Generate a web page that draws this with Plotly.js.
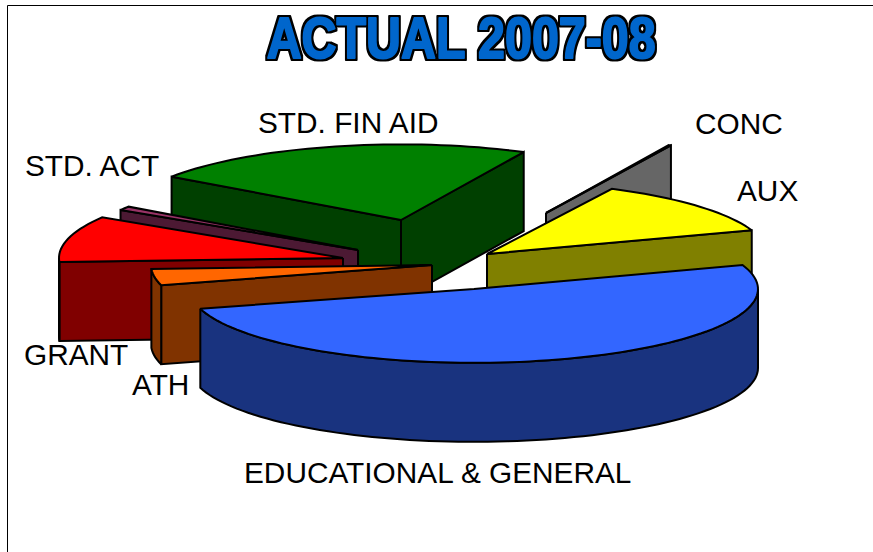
<!DOCTYPE html>
<html><head><meta charset="utf-8">
<script src="https://cdn.plot.ly/plotly-3.0.1.min.js"></script>
<style>html,body{margin:0;padding:0;background:#fff}#c{width:873px;height:552px}</style></head>
<body>
<svg width="0" height="0" style="position:absolute"><defs>
<filter id="wordart" x="-5%" y="-20%" width="110%" height="140%" color-interpolation-filters="sRGB">
<feMorphology in="SourceAlpha" operator="dilate" radius="2" result="fat"/>
<feFlood flood-color="#000"/><feComposite in2="fat" operator="in" result="edge"/>
<feMerge><feMergeNode in="edge"/><feMergeNode in="SourceGraphic"/></feMerge>
</filter></defs></svg>
<div id="c"></div>
<script>
// Data: share of the budget, in percent, going clockwise from EDUCATIONAL & GENERAL
const categories = ["EDUCATIONAL & GENERAL","ATH","GRANT","STD. ACT","STD. FIN AID","CONC","AUX"];
const values     = [50.97, 3.47, 9.72, 0.83, 22.5, 0.14, 12.36];

// Styling and layout of the exploded slices
const topColors  = ["#3366FF","#FF6600","#FF0000","#993366","#008000","#969696","#FFFF00"];
const sideColors = ["#19337F","#803300","#800000","#4C1933","#004000","#666666","#808000"];
const offsetX    = [24,-18,-107,-92,-49,96,37];
const offsetY    = [21,-3,-10,-18,-48,-55,-14];
const radius     = [284,281,284,280,280,280,280];
const flatten    = [0.26,0.27,0.27,0.27,0.27,0.27,0.26];
const drawOrder  = [5,4,3,2,6,1,0];
const labelX = [437,160,76,92,348,739,767];
const labelY = [472.5,384.5,354.5,165.5,122.5,123.5,190.5];

const CX=450, CY=268, DEPTH=79, START=71;
const rad = a => a*Math.PI/180;

function project(apex,a,r,k){ return [apex[0]+r*Math.sin(rad(a)), apex[1]-r*k*Math.cos(rad(a))]; }
function drop(p){ return [p[0], p[1]+DEPTH]; }
function polyTrace(pts, fill){
  return {type:"scatter", mode:"lines", x:[...pts.map(p=>p[0]),pts[0][0]], y:[...pts.map(p=>p[1]),pts[0][1]],
    fill:"toself", fillcolor:fill, line:{color:"#000",width:2,simplify:false}, hoverinfo:"skip", showlegend:false};
}
const total = values.reduce((s,v)=>s+v,0);
let acc = START; const spans = values.map(v=>{const a=acc; acc+=v/total*360; return [a,acc];});

const traces = [];
drawOrder.forEach(i=>{
  const [a,b] = spans[i]; const r=radius[i], k=flatten[i];
  const apex = [CX+offsetX[i], CY+offsetY[i]];
  const arc=[]; const n=Math.max(4,Math.ceil((b-a)/2));
  for(let j=0;j<=n;j++){ arc.push(project(apex,a+(b-a)*j/n,r,k)); }
  const sa=project(apex,a,r,k), sb=project(apex,b,r,k);
  if(Math.sin(rad(a))<0) traces.push(polyTrace([apex,sa,drop(sa),drop(apex)],sideColors[i]));
  if(Math.sin(rad(b))>0) traces.push(polyTrace([apex,sb,drop(sb),drop(apex)],sideColors[i]));
  const from=Math.max(a,90), to=Math.min(b,270);
  if(to>from){
    const w=[]; const m=Math.ceil((to-from)/2);
    for(let j=0;j<=m;j++) w.push(project(apex,from+(to-from)*j/m,r,k));
    traces.push(polyTrace([...w,...w.slice().reverse().map(drop)],sideColors[i]));
  }
  traces.push(polyTrace([apex,...arc],topColors[i]));
});

const annotations = categories.map((t,i)=>({x:labelX[i],y:labelY[i],text:t,showarrow:false,xanchor:"center",yanchor:"middle",
  font:{family:"Liberation Sans",size:29.8,color:"#000"}}));
annotations.push({x:460.5,y:37,text:"ACTUAL 2007-08",showarrow:false,xanchor:"center",yanchor:"middle",
  font:{family:"Liberation Sans",size:58,weight:700,color:"#0066CC"}});

const layout = {width:873,height:552,margin:{l:0,r:0,t:0,b:0},paper_bgcolor:"#fff",plot_bgcolor:"#fff",showlegend:false,
  xaxis:{range:[0,873],visible:false,fixedrange:true},
  yaxis:{range:[552,0],visible:false,fixedrange:true},
  shapes:[{type:"line",xref:"x",yref:"y",x0:7.5,x1:873,y0:5.5,y1:5.5,line:{color:"#000",width:1}},
          {type:"line",xref:"x",yref:"y",x0:7.5,x1:7.5,y0:5.5,y1:552,line:{color:"#000",width:1}}],
  annotations};
Plotly.newPlot("c",traces,layout,{staticPlot:true,displayModeBar:false}).then(gd=>{
  gd.querySelectorAll(".annotation-text").forEach(t=>{
    if(t.textContent==="ACTUAL 2007-08"){
      t.setAttribute("textLength","389");
      t.setAttribute("lengthAdjust","spacingAndGlyphs");
      t.style.stroke="#0066CC"; t.style.strokeWidth="2px"; t.style.strokeLinejoin="round";
      t.style.filter="url(#wordart)";
    }
  });
});
</script></body></html>
